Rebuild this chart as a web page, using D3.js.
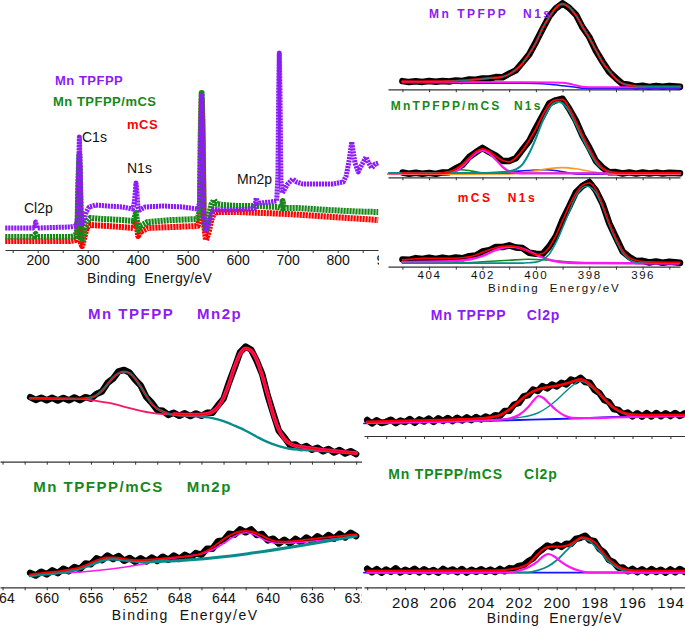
<!DOCTYPE html>
<html>
<head>
<meta charset="utf-8">
<script src="https://cdn.jsdelivr.net/npm/d3@7"></script>
<style>
	body { margin: 0; background: #fff; }
	svg { display: block; }
	text { white-space: pre; }
</style>
</head>
<body>
<svg id="chart" width="685" height="628"></svg>
<script>
// ---------- survey (wide scan) ----------
var surveyTicks = [150, 200, 250, 300, 350, 400, 450, 500, 550, 600, 650, 700, 750, 800, 850, 900];
var surveyLabels = [200, 300, 400, 500, 600, 700, 800, 900];

var surveyPurpleE = [135, 190, 194, 196, 198.5, 265, 276, 279.5, 281.5, 283.3, 285, 286.5, 288.5, 292, 297, 303, 315, 340, 370, 390, 393.5, 396.6, 398.5, 400.5, 404, 415, 450, 490, 520, 524.5, 526.5, 528, 529.5, 532, 536.6, 542, 547, 552, 560, 590, 625, 634, 637, 640, 646, 665, 678, 680.5, 682, 683.2, 684.5, 686.5, 689, 693, 700, 710, 718, 730, 760, 790, 811, 817, 823, 828, 834.6, 841, 848, 856.6, 862, 868, 875, 881];
var surveyPurple = [22, 22, 22.5, 28, 22, 23, 24, 30, 75, 113, 80, 35, 26, 30, 38, 43, 45, 44, 43, 41, 48, 67, 58, 43, 40, 43, 44, 43, 41, 48, 120, 155, 120, 35, 20, 26, 35, 41, 40, 40, 41, 42, 52, 47, 47, 48, 49, 75, 160, 197, 160, 70, 57, 60, 66, 71, 68, 66, 66, 66, 68, 74, 90, 108, 87, 78, 85, 93, 87, 82, 86, 87];

var surveyGreenE = [135, 190, 196, 198.5, 265, 276, 279.5, 281.5, 283.3, 285, 286.5, 289, 293, 298, 305, 330, 370, 392, 396.6, 399, 401, 405, 420, 470, 520, 524.5, 526.5, 528, 529.5, 532, 536.6, 542, 547, 552.6, 558, 570, 600, 640, 680, 688, 690, 692, 720, 780, 840, 881];
var surveyGreen = [13, 13, 16, 13, 13, 14, 22, 70, 95, 60, 12, 8, 18, 28, 32, 31, 30, 29, 37, 28, 20, 24, 28, 30, 31, 40, 130, 157, 130, 35, 18, 32, 45, 50, 46, 45, 44, 44, 43, 42, 49, 42, 42, 40, 38.5, 38];

var surveyRedE = [135, 265, 276, 279.5, 281.5, 283.3, 285, 286.5, 289, 293, 298, 305, 340, 392, 396.6, 399, 401, 405, 420, 520, 524.5, 526.5, 528, 529.5, 532, 536.6, 542, 547, 552.6, 560, 600, 650, 700, 760, 820, 881];
var surveyRed = [9, 9, 10, 15, 50, 85, 50, 7, 4, 12, 22, 25, 24, 22, 30, 21, 14, 18, 22, 24, 32, 120, 150, 120, 28, 10, 18, 30, 37, 38, 38, 37, 36, 34, 32, 30];

// ---------- N1s ----------
var n1sTicks = [405, 404, 403, 402, 401, 400, 399, 398, 397, 396, 395];
var n1sLabels = [404, 402, 400, 398, 396];
var n1sE = [405, 404.75, 404.5, 404.25, 404, 403.75, 403.5, 403.25, 403, 402.75, 402.5, 402.25, 402, 401.75, 401.5, 401.25, 401, 400.75, 400.5, 400.25, 400, 399.75, 399.5, 399.25, 399, 398.75, 398.5, 398.25, 398, 397.75, 397.5, 397.25, 397, 396.75, 396.5, 396.25, 396, 395.75, 395.5, 395.25, 395, 394.6];

var n1sTpfppData = [8.2, 7.2, 8.0, 7.4, 8.3, 7.6, 8.4, 7.8, 8.9, 8.4, 9.8, 9.5, 10.9, 10.8, 12.2, 12.0, 15.6, 19.0, 26.8, 34.9, 47.2, 60.3, 72.9, 81.0, 86.0, 81.3, 74.7, 61.9, 52.3, 38.5, 27.6, 17.4, 11.1, 5.3, 4.5, 2.7, 3.5, 2.4, 3.3, 2.5, 3.2, 2.6];
var n1sTpfppFit = [7.8, 7.7, 7.7, 7.7, 7.8, 7.9, 7.9, 8.1, 8.3, 8.8, 9.2, 9.9, 10.4, 11.2, 11.6, 12.4, 15, 19.5, 26, 35.5, 46.5, 61, 72, 81.5, 85.3, 82, 74, 62.5, 51.5, 39, 27, 18, 10.5, 5.8, 4, 3.2, 2.9, 2.8, 2.8, 2.8, 2.8, 2.8];
var n1sTpfppBgE = [405, 401, 399.5, 399.0, 398.75, 398.5, 398.25, 398.0, 397.5, 394.6];
var n1sTpfppBg = [7.6, 7.1, 6.8, 6.6, 5.6, 4.0, 2.6, 2.1, 2.0, 2.0];
var n1sTpfppBlueE = [405, 400.5, 400.0, 399.5, 399.0, 398.5, 398.2, 397.8, 394.6];
var n1sTpfppBlue = [6.2, 6.0, 5.8, 5.0, 3.6, 2.0, 1.1, 0.9, 0.9];

var n1sMixData = [4.8, 3.6, 4.6, 3.5, 4.4, 3.4, 4.9, 5.0, 8.9, 12.4, 20.3, 25.0, 29.4, 25.3, 21.7, 16.2, 16.3, 19.0, 27.8, 36.4, 49.3, 61.4, 73.8, 77.0, 78.6, 68.4, 56.7, 41.4, 29.6, 16.4, 9.7, 5.0, 5.2, 3.8, 4.9, 3.7, 4.8, 3.8, 4.7, 3.9, 4.6, 4.0];
var n1sMixFit = [4.3, 4.2, 4.1, 4.0, 3.9, 3.9, 4.3, 5.5, 8.2, 13, 19.5, 25.5, 28.5, 26, 21, 16.8, 15.5, 19.5, 27, 37, 48.5, 62, 73, 77.5, 77.8, 69, 56, 42, 29, 17, 9, 5.6, 4.6, 4.3, 4.3, 4.3, 4.3, 4.3, 4.3, 4.3, 4.3, 4.3];
var n1sMixTealE = [405.5, 401.5, 401, 400.75, 400.5, 400.25, 400, 399.75, 399.5, 399.25, 399.15, 399, 398.75, 398.5, 398.25, 398, 397.75, 397.5, 397.25, 397, 396.5, 394.6];
var n1sMixTeal = [4.2, 4.4, 6, 8, 13, 24, 39, 56, 69, 75, 75.3, 74, 66, 53, 39, 26, 15, 8.5, 5.5, 4.5, 4.2, 4.2];
var n1sMixPinkE = [405.5, 403.5, 403.25, 403, 402.75, 402.5, 402.25, 402, 401.75, 401.5, 401.25, 401, 400.75, 400.5, 394.6];
var n1sMixPink = [4, 4.1, 4.5, 6, 11, 18, 24, 27, 24, 17.5, 10.5, 6, 4.5, 4, 4];
var n1sMixGreenE = [405.5, 403.6, 403.2, 402.8, 402.4, 402.0, 401.6, 394.6];
var n1sMixGreen = [4, 4.2, 6, 7.6, 6.2, 4.5, 4, 4];
var n1sMixBlueE = [405.54, 403, 401, 400.3, 399.7, 399.2, 398.8, 398.4, 394.6];
var n1sMixBlue = [3.3, 3.8, 5.5, 6.8, 7.6, 6.5, 4.6, 3.2, 3.2];
var n1sMixOrangeE = [405.54, 401, 400.5, 400, 399.5, 399.0, 398.5, 398.0, 397.5, 397.0, 394.6];
var n1sMixOrange = [3.0, 3.3, 4.5, 6.5, 8.8, 9.7, 8.5, 6.0, 3.8, 3.0, 3.0];

var n1sCsData = [7.3, 6.9, 8.6, 7.7, 9.0, 7.8, 9.1, 7.9, 9.2, 8.4, 10.5, 11.2, 15.2, 16.4, 19.8, 19.6, 21.4, 19.2, 18.6, 14.0, 12.9, 12.6, 20.2, 30.3, 46.8, 60.2, 74.3, 80.9, 84.6, 76.2, 62.8, 43.3, 29.2, 15.3, 9.7, 5.6, 5.9, 4.2, 5.3, 3.9, 5.0, 3.9];
var n1sCsFit = [6.8, 7.4, 8.0, 8.3, 8.4, 8.4, 8.4, 8.4, 8.5, 9.0, 9.8, 11.8, 14.4, 17, 19, 20.3, 20.7, 19.8, 17.8, 14.6, 12.2, 13.2, 19.5, 31, 46, 61, 73.5, 81.5, 83.7, 77, 62, 44, 28.5, 16, 9, 6.2, 5.2, 4.8, 4.6, 4.5, 4.4, 4.4];
var n1sCsTealE = [405, 400.5, 400.25, 400, 399.75, 399.5, 399.25, 399, 398.75, 398.5, 398.25, 398.1, 398, 397.75, 397.5, 397.25, 397, 396.75, 396.5, 396.25, 396, 394.65];
var n1sCsTeal = [3.5, 3.6, 4.0, 4.6, 7, 12.5, 24, 39, 55, 70, 79, 80.5, 80, 74, 60, 42, 26.5, 14, 7, 4.2, 3.5, 3.4];
var n1sCsPinkE = [405, 403, 402.4, 402, 401.6, 401.2, 400.95, 400.6, 400.2, 399.8, 399.4, 399, 398.5, 394.65];
var n1sCsPink = [4.7, 5.7, 7.7, 10.7, 15.7, 19.2, 20, 18.7, 14.7, 9.7, 6.2, 4.4, 3.7, 3.2];
var n1sCsGreenE = [405, 402.8, 402, 401, 400.3, 399.5, 398.8, 398, 396, 394.65];
var n1sCsGreen = [3.6, 3.8, 5, 6.5, 7.4, 6.5, 5, 4, 3.6, 3.4];

// ---------- Mn2p ----------
var mnTicks = [664, 662, 660, 658, 656, 654, 652, 650, 648, 646, 644, 642, 640, 638, 636, 634, 632];
var mnLabels = [664, 660, 656, 652, 648, 644, 640, 636, 632];
var mnE = [661.5, 661, 660.5, 660, 659.5, 659, 658.5, 658, 657.5, 657, 656.5, 656, 655.5, 655, 654.5, 654, 653.5, 653, 652.5, 652, 651.5, 651, 650.5, 650, 649.5, 649, 648.5, 648, 647.5, 647, 646.5, 646, 645.5, 645, 644.5, 644, 643.5, 643, 642.5, 642, 641.5, 641, 640.5, 640, 639.5, 639, 638.5, 638, 637.5, 637, 636.5, 636, 635.5, 635, 634.5, 634, 633.5, 633, 632.5, 632];

var mnTpfppData = [64.5, 61.8, 64.0, 61.5, 63.9, 61.2, 63.8, 61.4, 64.2, 61.5, 64.5, 63.0, 67.8, 70.2, 78.8, 83.0, 90.4, 91.8, 89.0, 82.0, 76.2, 64.8, 58.9, 51.6, 50.9, 46.8, 48.9, 45.9, 48.4, 45.6, 48.3, 45.9, 48.9, 49.0, 56.3, 63.0, 79.4, 94.0, 109.5, 115.2, 112.0, 101.0, 87.4, 66.0, 48.2, 31.0, 24.4, 16.8, 17.2, 13.6, 15.6, 11.9, 14.0, 10.4, 12.8, 9.3, 11.6, 8.1, 10.5, 7.6];
var mnTpfppFit = [63.4, 63.4, 63.3, 63.2, 63.1, 63.0, 62.9, 62.8, 62.7, 62.8, 63.3, 64.2, 66.5, 71, 77.5, 84, 88.5, 90, 88.5, 83, 75, 66, 58, 53, 50, 48.3, 47.6, 47.3, 47.1, 47.0, 47.0, 47.2, 47.8, 50, 55, 64, 78, 95, 108, 113.4, 111, 102, 86, 67, 47, 32, 23, 18, 15.8, 15, 14.1, 13.3, 12.6, 11.9, 11.3, 10.7, 10.1, 9.6, 9.1, 8.7];
var mnTpfppTealE = [661.5, 659, 657, 656.5, 656, 655.5, 655, 654.5, 654, 653.5, 653, 652.5, 652, 651.5, 651, 650.5, 650, 649.5, 649, 648, 647, 646, 645, 644, 643, 642, 641, 640, 639, 638, 637, 636, 635, 634, 633, 632];
var mnTpfppTeal = [63.4, 63.0, 62.8, 63.3, 64.2, 66.5, 71, 77.5, 84, 88.5, 90, 88.5, 83, 75, 66, 58, 53, 50, 48, 46.5, 45.8, 45, 43.6, 40.5, 36, 31, 25, 19.5, 15.5, 13, 12, 11.3, 10.6, 10, 9.4, 8.8];
var mnTpfppPinkE = [661.5, 657.5, 656.5, 655.5, 654.5, 653.5, 652.5, 651.5, 650.5, 649.5, 648.5];
var mnTpfppPink = [63.3, 63.0, 62.3, 60.8, 59.0, 56.5, 53.5, 50.8, 48.8, 47.6, 47.2];

var mnMixData = [14.5, 11.8, 15.6, 12.9, 17.0, 14.2, 18.5, 16.0, 20.3, 18.2, 23.8, 23.0, 28.9, 27.0, 31.8, 28.3, 31.2, 26.5, 29.3, 25.5, 29.0, 25.8, 29.7, 26.4, 30.6, 27.5, 31.7, 28.4, 32.5, 29.6, 34.2, 32.5, 38.5, 38.6, 46.1, 46.7, 53.6, 52.7, 58.0, 55.0, 57.9, 52.2, 53.3, 46.9, 48.6, 43.8, 47.5, 43.9, 48.4, 45.1, 49.8, 46.3, 51.1, 47.7, 52.3, 48.6, 53.4, 49.8, 54.5, 51.2];
var mnMixFit = [13.0, 13.6, 14.2, 14.8, 15.4, 16.0, 16.8, 17.6, 18.6, 20.0, 22.0, 24.5, 27.0, 28.8, 29.8, 30.0, 29.4, 28.5, 27.6, 27.2, 27.2, 27.5, 27.9, 28.3, 28.8, 29.3, 29.8, 30.2, 30.7, 31.3, 32.3, 34.0, 36.5, 40.0, 44.0, 48.0, 51.5, 54.2, 55.8, 56.5, 55.8, 54.0, 51.5, 48.8, 46.8, 45.8, 45.6, 45.9, 46.4, 47.0, 47.7, 48.3, 49.0, 49.6, 50.1, 50.6, 51.2, 51.8, 52.4, 53.0];
var mnMixTealE = [661.5, 660, 658.5, 657, 656, 655, 654.3, 653.5, 652.5, 651.6, 632];
var mnMixTeal = [11.5, 13.2, 15.2, 18.5, 22.5, 26.5, 28.2, 27.8, 26.5, 25.6, 51.3];
var mnMixPinkE = [661.5, 651.3, 650, 649, 648, 647, 646, 645, 644, 643, 642.5, 642, 641.5, 641, 640.5, 640, 639.5, 639, 638, 637, 632];
var mnMixPink = [12.3, 23.3, 27.0, 28.6, 30.0, 31.5, 33.3, 37.5, 44.0, 51.0, 53.5, 54.6, 53.8, 51.5, 48.5, 46.0, 44.6, 44.0, 44.2, 45.0, 51.3];

// ---------- Cl2p ----------
var clTicks = [210, 209, 208, 207, 206, 205, 204, 203, 202, 201, 200, 199, 198, 197, 196, 195, 194, 193];
var clLabels = [208, 206, 204, 202, 200, 198, 196, 194];
var clE = [210, 209.75, 209.5, 209.25, 209, 208.75, 208.5, 208.25, 208, 207.75, 207.5, 207.25, 207, 206.75, 206.5, 206.25, 206, 205.75, 205.5, 205.25, 205, 204.75, 204.5, 204.25, 204, 203.75, 203.5, 203.25, 203, 202.75, 202.5, 202.25, 202, 201.75, 201.5, 201.25, 201, 200.75, 200.5, 200.25, 200, 199.75, 199.5, 199.25, 199, 198.75, 198.5, 198.25, 198, 197.75, 197.5, 197.25, 197, 196.75, 196.5, 196.25, 196, 195.75, 195.5, 195.25, 195, 194.75, 194.5, 194.25, 194, 193.75, 193.5, 193.25];

var clTpfppData = [16.0, 12.5, 15.8, 13.0, 14.2, 16.3, 12.8, 15.5, 13.9, 17.0, 13.2, 16.6, 14.5, 17.5, 14.0, 17.8, 15.0, 18.0, 14.9, 18.3, 15.5, 18.6, 15.9, 19.0, 16.5, 19.4, 17.5, 20.8, 20.0, 25.0, 25.3, 31.5, 33.0, 39.6, 40.8, 46.5, 45.0, 49.9, 47.6, 51.4, 49.5, 53.3, 51.6, 56.4, 54.8, 58.2, 54.0, 53.2, 46.0, 43.0, 36.0, 34.0, 27.0, 26.0, 21.8, 23.4, 19.6, 22.8, 19.4, 22.9, 19.5, 23.0, 19.8, 22.8, 19.9, 22.9, 20.0, 22.6];
var clTpfppFitE = [210, 209, 208, 207, 206, 205, 204.5, 204, 203.5, 203, 202.5, 202, 201.5, 201, 200.5, 200, 199.5, 199, 198.75, 198.5, 198, 197.5, 197, 196.5, 196, 195.5, 195, 194, 193.25];
var clTpfppFit = [14.3, 14.7, 15.1, 15.5, 16.0, 16.6, 17.0, 17.6, 18.6, 20.8, 26.5, 34.5, 42, 46.5, 48.8, 50.3, 52.5, 55.5, 56.7, 55.3, 47.5, 37.5, 28.5, 23.4, 21.5, 21.0, 20.9, 21.0, 21.0];
var clTpfppTealE = [210, 204, 203, 202.5, 202, 201.5, 201, 200.5, 200, 199.5, 199, 198.86, 198.5, 198, 197.5, 197, 196.5, 196, 195.5, 195, 193.25];
var clTpfppTeal = [13.3, 15.8, 16.5, 17.2, 18.5, 20, 23, 28.5, 36, 45, 53, 55, 53.5, 46, 36.5, 27.5, 22.5, 20, 19.5, 19.5, 20.3];
var clTpfppPinkE = [210, 204, 203, 202.5, 202, 201.5, 201.2, 200.97, 200.7, 200.4, 200, 199.6, 199.2, 198.5, 197, 193.25];
var clTpfppPink = [13, 15.3, 16.3, 17.5, 21, 29, 36, 40, 38, 32.5, 25.5, 20.5, 18.2, 17.8, 18.5, 20];
var clTpfppBlueE = [210.17, 204, 202, 200, 198.8, 197, 196, 193.23];
var clTpfppBlue = [12.7, 15.0, 16.0, 17.0, 17.7, 19.0, 19.5, 20.3];

var clMixData = [18.5, 15.0, 18.2, 14.6, 17.8, 15.3, 19.0, 14.8, 17.5, 15.6, 18.6, 14.9, 18.0, 15.2, 17.2, 14.5, 18.4, 15.8, 17.9, 15.1, 18.3, 14.7, 17.6, 15.4, 18.1, 15.5, 17.7, 15.3, 18.4, 16.0, 19.2, 18.6, 21.4, 22.0, 26.0, 28.8, 34.5, 38.0, 41.8, 40.0, 42.5, 40.4, 43.5, 43.4, 48.3, 49.5, 51.6, 47.0, 46.0, 38.5, 35.0, 27.5, 25.2, 19.6, 19.8, 16.0, 18.5, 15.2, 18.0, 14.9, 18.2, 15.3, 17.6, 14.6, 17.9, 15.0, 18.3, 15.4];
var clMixFitE = [210, 205, 204, 203, 202.5, 202, 201.5, 201, 200.75, 200.5, 200.25, 200, 199.5, 199, 198.68, 198.5, 198, 197.5, 197, 196.5, 196, 195.5, 195, 193.25];
var clMixFit = [16.6, 16.7, 16.8, 17.0, 17.8, 19.5, 23.5, 33, 37.5, 40, 40.8, 40.6, 41.5, 46.5, 50, 49.5, 45, 33.5, 24, 18.5, 17, 16.7, 16.6, 16.6];
var clMixPinkE = [210, 202.5, 202, 201.5, 201, 200.75, 200.44, 200.1, 199.8, 199.3, 198.8, 198.3, 193.25];
var clMixPink = [14.6, 14.8, 16.5, 20, 26, 30.5, 33.3, 30.5, 26, 20, 16.5, 14.9, 14.6];
var clMixTealE = [210, 201.5, 201, 200.5, 200, 199.5, 199, 198.68, 198.3, 197.8, 197.3, 196.8, 196.3, 195.5, 193.25];
var clMixTeal = [14.6, 15, 17, 20.5, 27, 36.5, 45.5, 49, 46.5, 37.5, 26.5, 19.5, 16, 14.8, 14.6];
var clMixBlueE = [210.17, 193.23];
var clMixBlue = [14.6, 14.6];

// colours
var PURPLE = "#8b1cf7", GREEN = "#16881a", RED = "#ff0000", TEAL = "#078b8b",
	PINK = "#ff16f0", BLUE = "#1515ff", ORANGE = "#ff9a1e", CRIMSON = "#ff1463";
var FONT = "'Liberation Sans', Arial, sans-serif";

var svg = d3.select("#chart");
var defs = svg.append("defs");
defs.append("clipPath").attr("id", "clipSurvey").append("rect").attr("x", 0).attr("y", 0).attr("width", 379).attr("height", 300);
defs.append("clipPath").attr("id", "clipMn").append("rect").attr("x", 0).attr("y", 290).attr("width", 362).attr("height", 338);

function yScale(axisY){
	return d3.scaleLinear().domain([0, 100]).range([axisY, axisY - 100]);
}

function trace(g, x, y, E, I, color, width, curve){
	var line = d3.line()
		.x(function(d, i){ return x(E[i]); })
		.y(function(d){ return y(d); })
		.curve(curve || d3.curveMonotoneX);
	return g.append("path")
		.datum(I)
		.attr("d", line)
		.attr("fill", "none")
		.attr("stroke", color)
		.attr("stroke-width", width)
		.attr("stroke-linejoin", "round")
		.attr("stroke-linecap", "round");
}

function bottomAxis(g, x, axisY, ticks, labels, size, pad, spacing){
	var ax = d3.axisBottom(x)
		.tickValues(ticks)
		.tickSize(3)
		.tickSizeOuter(0)
		.tickPadding(pad)
		.tickFormat(function(d){ return labels.indexOf(d) >= 0 ? d : ""; });
	var a = g.append("g")
		.attr("transform", "translate(0," + axisY + ")")
		.call(ax);
	a.select(".domain").attr("stroke", "#333").attr("stroke-width", 1.2);
	a.selectAll(".tick line").attr("stroke", "#333");
	a.selectAll(".tick text")
		.attr("fill", "#111")
		.attr("font-size", size)
		.attr("font-family", FONT)
		.attr("letter-spacing", spacing || 0);
}

function label(g, x, y, txt, color, size, weight, spacing){
	g.append("text")
		.attr("x", x)
		.attr("y", y)
		.attr("fill", color)
		.attr("font-family", FONT)
		.attr("font-size", size)
		.attr("font-weight", weight || "normal")
		.attr("letter-spacing", spacing || 0)
		.text(txt);
}

// ===== survey =====
var gs = svg.append("g").attr("clip-path", "url(#clipSurvey)");
var xs = d3.scaleLinear().domain([134.6, 880.6]).range([5, 378]);
var ys = d3.scaleLinear().domain([0, 250]).range([250, 0]);
// hatched look of the dense marker traces
trace(gs, xs, ys, surveyRedE, surveyRed, RED, 6, d3.curveLinear)
	.attr("stroke-dasharray", "2.2 0.8").attr("stroke-linecap", "butt");
trace(gs, xs, ys, surveyGreenE, surveyGreen, GREEN, 6, d3.curveLinear)
	.attr("stroke-dasharray", "2.2 0.8").attr("stroke-linecap", "butt");
trace(gs, xs, ys, surveyPurpleE, surveyPurple, PURPLE, 5, d3.curveLinear)
	.attr("stroke-dasharray", "2.2 0.8").attr("stroke-linecap", "butt");
bottomAxis(gs, xs, 250, surveyTicks, surveyLabels, 14, 2, 0);
label(svg, 87, 282.7, "Binding  Energy/eV", "#111", 14, "normal", 0.3);
label(svg, 55, 85, "Mn TPFPP", PURPLE, 13, "bold", 0.5);
label(svg, 53, 106, "Mn TPFPP/mCS", GREEN, 13, "bold", 0.5);
label(svg, 127, 128.5, "mCS", RED, 13, "bold", 0.5);
label(svg, 82, 142, "C1s", "#111", 14);
label(svg, 127, 173, "N1s", "#111", 14);
label(svg, 237, 184, "Mn2p", "#111", 14);
label(svg, 24, 212.5, "Cl2p", "#111", 14);

// ===== N1s =====
var xn = d3.scaleLinear().domain([405.54, 394.6]).range([388, 680]);
var gn = svg.append("g");

var yA = yScale(89.3);
trace(gn, xn, yA, n1sE, n1sTpfppData, "#000", 6.5, d3.curveLinear);
trace(gn, xn, yA, n1sTpfppBlueE, n1sTpfppBlue, BLUE, 1.6);
trace(gn, xn, yA, n1sTpfppBgE, n1sTpfppBg, PINK, 2);
trace(gn, xn, yA, n1sE, n1sTpfppFit, RED, 2.4);
trace(gn, xn, yA, n1sE, n1sTpfppFit, TEAL, 1);
bottomAxis(gn, xn, 89.3, n1sTicks, [], 12, 2, 1.5);
label(gn, 429, 18.3, "Mn TPFPP", PURPLE, 12, "bold", 2.5);
label(gn, 523, 18.3, "N1s", PURPLE, 12, "bold", 2.5);

var yB = yScale(177.3);
trace(gn, xn, yB, n1sE, n1sMixData, "#000", 6.5, d3.curveLinear);
trace(gn, xn, yB, n1sMixBlueE, n1sMixBlue, BLUE, 1.6);
trace(gn, xn, yB, n1sMixOrangeE, n1sMixOrange, ORANGE, 1.6);
trace(gn, xn, yB, n1sMixGreenE, n1sMixGreen, GREEN, 1.6);
trace(gn, xn, yB, n1sMixPinkE, n1sMixPink, PINK, 2.2);
trace(gn, xn, yB, n1sMixTealE, n1sMixTeal, TEAL, 2);
trace(gn, xn, yB, n1sE, n1sMixFit, RED, 1.8);
bottomAxis(gn, xn, 177.3, n1sTicks, [], 12, 2, 1.5);
label(gn, 390.7, 110, "MnTPFPP/mCS", GREEN, 12, "bold", 2.2);
label(gn, 514, 110, "N1s", GREEN, 12, "bold", 2.2);

var yC = yScale(266.7);
trace(gn, xn, yC, n1sE, n1sCsData, "#000", 6.5, d3.curveLinear);
trace(gn, xn, yC, n1sCsGreenE, n1sCsGreen, GREEN, 1.6);
trace(gn, xn, yC, n1sCsPinkE, n1sCsPink, PINK, 2.4);
trace(gn, xn, yC, n1sCsTealE, n1sCsTeal, TEAL, 1.6);
trace(gn, xn, yC, n1sE, n1sCsFit, RED, 1.6);
bottomAxis(gn, xn, 266.7, n1sTicks, n1sLabels, 11.5, 1, 1.6);
label(gn, 488, 292, "Binding  Energy/eV", "#111", 11.5, "normal", 1.9);

label(gn, 457.7, 201.7, "mCS", RED, 12, "bold", 2.5);
label(gn, 507.7, 201.7, "N1s", RED, 12, "bold", 2.5);

// ===== Mn2p =====
var xm = d3.scaleLinear().domain([664.23, 631.38]).range([0, 363]);
var gm = svg.append("g").attr("clip-path", "url(#clipMn)");

var yMA = yScale(461.7);
trace(gm, xm, yMA, mnE, mnTpfppData, "#000", 6.5, d3.curveLinear);
trace(gm, xm, yMA, mnTpfppPinkE, mnTpfppPink, CRIMSON, 1.8);
trace(gm, xm, yMA, mnTpfppTealE, mnTpfppTeal, TEAL, 2.4);
var peak2E = mnE.filter(function(e){ return e <= 648.5; });
var peak2I = mnTpfppFit.filter(function(v, i){ return mnE[i] <= 648.5; });
trace(gm, xm, yMA, peak2E, peak2I, CRIMSON, 3.8);
trace(gm, xm, yMA, mnE, mnTpfppFit, RED, 1.1);
bottomAxis(gm, xm, 461.7, mnTicks, [], 14, 3, 0);
label(gm, 88, 319.3, "Mn TPFPP", PURPLE, 15, "bold", 1.5);
label(gm, 197, 319.3, "Mn2p", PURPLE, 15, "bold", 1.5);

var yMB = yScale(587.3);
trace(gm, xm, yMB, mnE, mnMixData, "#000", 6.5, d3.curveLinear);
trace(gm, xm, yMB, mnMixPinkE, mnMixPink, PINK, 1.6);
trace(gm, xm, yMB, mnMixTealE, mnMixTeal, TEAL, 3);
trace(gm, xm, yMB, mnE, mnMixFit, RED, 1.8);
bottomAxis(gm, xm, 587.3, mnTicks, mnLabels, 14, 3, 0.3);
label(gm, 33.3, 492.3, "Mn TPFPP/mCS", GREEN, 15, "bold", 1.5);
label(gm, 186.7, 492.3, "Mn2p", GREEN, 15, "bold", 1.5);
label(gm, 111.7, 619.5, "Binding  Energy/eV", "#111", 14, "normal", 1.5);

// ===== Cl2p =====
var xc = d3.scaleLinear().domain([210.17, 193.23]).range([364, 685]);
var gc = svg.append("g");

var yCA = yScale(436);
trace(gc, xc, yCA, clE, clTpfppData, "#000", 6.5, d3.curveLinear);
trace(gc, xc, yCA, clTpfppBlueE, clTpfppBlue, BLUE, 1.8);
trace(gc, xc, yCA, clTpfppTealE, clTpfppTeal, TEAL, 1.4);
trace(gc, xc, yCA, clTpfppPinkE, clTpfppPink, PINK, 2.2);
trace(gc, xc, yCA, clTpfppFitE, clTpfppFit, RED, 2.6);
bottomAxis(gc, xc, 436, clTicks, [], 15, 7, 0.8);
label(gc, 430.7, 320, "Mn TPFPP", PURPLE, 14, "bold", 0.8);
label(gc, 526.7, 320, "Cl2p", PURPLE, 14, "bold", 0.8);

var yCB = yScale(587.3);
trace(gc, xc, yCB, clE, clMixData, "#000", 6.5, d3.curveLinear);
trace(gc, xc, yCB, clMixBlueE, clMixBlue, BLUE, 1.8);
trace(gc, xc, yCB, clMixTealE, clMixTeal, TEAL, 1.8);
trace(gc, xc, yCB, clMixPinkE, clMixPink, PINK, 2.2);
trace(gc, xc, yCB, clMixFitE, clMixFit, RED, 2);
bottomAxis(gc, xc, 587.3, clTicks, clLabels, 15, 7, 0.8);
label(gc, 388.3, 479.3, "Mn TPFPP/mCS", GREEN, 14, "bold", 0.8);
label(gc, 524, 479.3, "Cl2p", GREEN, 14, "bold", 0.8);
label(gc, 486.7, 623, "Binding  Energy/eV", "#111", 14, "normal", 0.9);
</script>
</body>
</html>
